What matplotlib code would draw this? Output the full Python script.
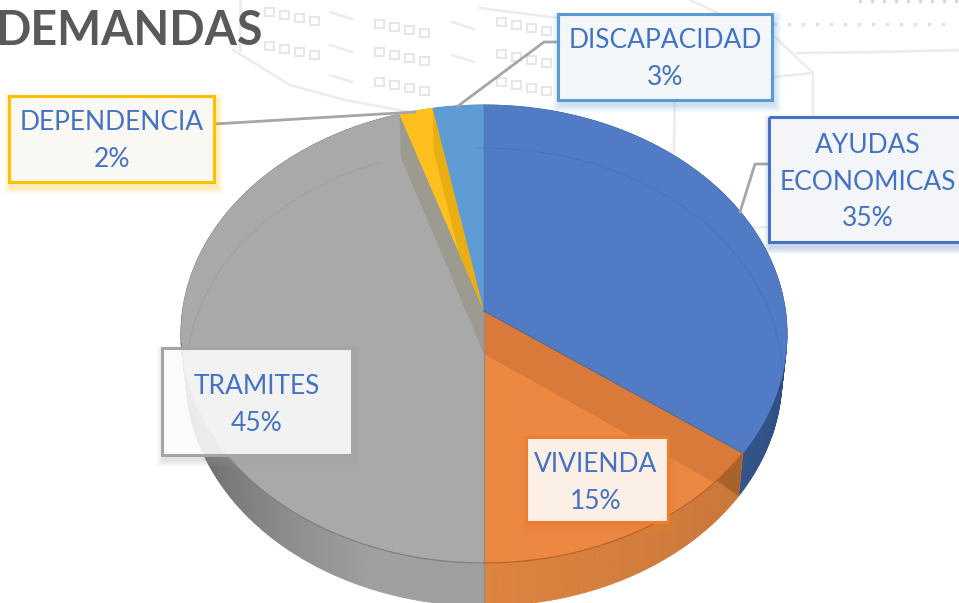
import numpy as np
import matplotlib
matplotlib.use("Agg")
import matplotlib.pyplot as plt
from matplotlib.patches import Polygon, Rectangle

title = "DEMANDAS"
categories = ["AYUDAS\nECONOMICAS", "VIVIENDA", "TRAMITES", "DEPENDENCIA", "DISCAPACIDAD"]
values = [35, 15, 45, 2, 3]

top_colors = ["#517bc5", "#ec8842", "#a9a9a9", "#fdc01c", "#5f9bd4"]
border_colors = ["#4472c4", "#ed7d31", "#a5a5a5", "#ffc000", "#5b9bd5"]
box_fills = ["#f6f7fa", "#ffffff", "#ffffff", "#faf9f5", "#f6f8fb"]
box_alphas = [0.96, 0.88, 0.86, 0.96, 0.96]
wall_near = ["#3f639f", "#dd8440", "#a0a0a0", "#e0a818", "#4d85bd"]
wall_far = ["#2b4a80", "#c8763a", "#666666", "#e0a818", "#4d85bd"]
band_colors = ["#d97a3a", None, "#9d9b90", "#e8ae12", None]

# (x0, y0, x1, y1) de cada etiqueta, en pixeles
boxes = [(769, 117, 975, 242), (526, 437, 668, 522), (162, 348, 352, 455),
         (9, 96, 214, 182), (558, 14, 772, 100)]
text_centers = [(868, 182), (596, 483), (257, 405), (112, 141), (665, 59)]
leaders = [[(769, 164), (755, 164), (740, 212)],
           None,
           None,
           [(214, 124), (415, 112)],
           [(558, 42), (544, 42), (458, 106)]]

CX, CY = 484, 334      # centro de la elipse superior
RX, RY = 303, 229
APEX = (484, 311)
DEPTH = 43
RX2 = 298
TILT = RY / RX


def rim(angle):
    """punto del borde superior, angulo en grados desde arriba en sentido horario"""
    a = np.radians(angle)
    dx, dy = np.sin(a), -TILT * np.cos(a)
    oy = APEX[1] - CY
    A = (dx / RX) ** 2 + (dy / RY) ** 2
    B = 2 * oy * dy / RY ** 2
    C = (oy / RY) ** 2 - 1
    s = (-B + np.sqrt(B ** 2 - 4 * A * C)) / (2 * A)
    return CX + s * dx, APEX[1] + s * dy


def lower(p):
    return CX + (p[0] - CX) * RX2 / RX, p[1] + DEPTH


def mix(c1, c2, t):
    a = np.array(matplotlib.colors.to_rgb(c1))
    b = np.array(matplotlib.colors.to_rgb(c2))
    return tuple(a + (b - a) * t)


fig = plt.figure(figsize=(9.59, 6.03), dpi=100, facecolor="white")
ax = fig.add_axes([0, 0, 1, 1])
ax.set_xlim(0, 959)
ax.set_ylim(603, 0)
ax.axis("off")

plt.rcParams["font.family"] = ["Lato", "DejaVu Sans"]

# dibujo tenue del edificio de fondo
sketch = "#ececec"
for pts in [[(233, 50), (290, 85), (345, 100), (415, 113)],
            [(240, 0), (240, 50)],
            [(480, 8), (558, 18)],
            [(775, 37), (813, 73), (813, 117)],
            [(773, 77), (813, 73)],
            [(797, 53), (880, 52), (959, 50)],
            [(675, 100), (672, 233)],
            [(673, 230), (767, 227)],
            [(690, 0), (720, 14)]]:
    ax.plot(*zip(*pts), color=sketch, lw=1.8, zorder=1)
for x0, y0 in [(265, 8), (265, 42), (375, 20), (375, 48), (375, 78), (497, 18), (497, 50), (497, 78)]:
    for k in range(4):
        ax.add_patch(Rectangle((x0 + k * 15, y0 + k * 3), 9, 8, fill=False, ec="#e6e6e6", lw=1.4, zorder=1))
for x0, y0 in [(330, 12), (330, 45), (330, 75), (452, 22), (452, 55)]:
    ax.plot([x0, x0 + 22], [y0, y0 + 7], color=sketch, lw=1.8, zorder=1)
ax.plot(np.arange(775, 950, 14), np.full(13, 24), ls="none", marker="s", ms=2, color="#e2e2e2", zorder=1)
ax.plot(np.arange(860, 959, 12), np.full(9, 1), ls="none", marker="s", ms=2, color="#d8d8d8", zorder=1)

# limites de cada sector
edges = np.concatenate([[0], np.cumsum(values)]) / np.sum(values) * 360

# pared lateral, en tiras pequenas para el degradado
for i in range(len(values)):
    ts = np.linspace(edges[i], edges[i + 1], max(int(values[i] * 4), 4))
    for a0, a1 in zip(ts[:-1], ts[1:]):
        p0, p1 = rim(a0), rim(a1)
        q0, q1 = lower(p0), lower(p1)
        mid = (a0 + a1) / 2
        if i == 0:
            u = 1 - min(abs(mid - 90) / 60, 1) * 0.6
        elif i == 1:
            u = (180 - mid) / 54
        else:
            u = min((mid - 200) / 50, 1) if mid > 200 else 0
        c = mix(wall_near[i], wall_far[i], u)
        ax.add_patch(Polygon([p0, p1, q1, q0], fc=c, ec=c, lw=0.6, zorder=2))

# caras superiores
faces = []
for i in range(len(values)):
    ts = np.linspace(edges[i], edges[i + 1], max(int(values[i] * 4), 6))
    pts = [APEX] + [rim(t) for t in ts]
    face = Polygon(pts, fc=top_colors[i], ec=top_colors[i], lw=0.5, zorder=3)
    ax.add_patch(face)
    faces.append(face)

# cortes entre sectores, vistos a traves de la cara
low_apex = lower(APEX)
for i, side in [(0, 1), (2, 2), (3, 3)]:
    p = rim(edges[i + 1])
    band = Polygon([APEX, p, lower(p), low_apex], fc=band_colors[i], ec="none", zorder=4)
    ax.add_patch(band)
    band.set_clip_path(faces[side])
    if i == 0:
        # parte del corte que cae sobre la pared
        ax.add_patch(Polygon([p, lower(p), rim(edges[i + 1] + 8)], fc="#a9622c", ec="none", zorder=4))

ax.plot([APEX[0], APEX[0]], [APEX[1], 603], color="#9a8d80", lw=1.0, zorder=5)
ax.plot([APEX[0], APEX[0]], [105, APEX[1]], color="#4a78b8", lw=1.0, zorder=5)
p = rim(edges[1])
ax.plot([APEX[0], p[0]], [APEX[1], p[1]], color="#4a6a9a", lw=0.8, zorder=5)

# arcos finos: borde delantero y fondo de la base
for i, c in [(1, "#b9632a"), (2, "#808080")]:
    ts = np.linspace(edges[i], min(edges[i + 1], 262), 80)
    arc = np.array([rim(t) for t in ts])
    ax.plot(arc[:, 0], arc[:, 1], color=c, lw=0.9, zorder=5)
t = np.linspace(-0.02, np.pi / 2 - 0.02, 100)
ax.plot(CX + RX2 * np.sin(t), CY + DEPTH - RY * np.cos(t), color="#4a70b4", lw=0.7, alpha=0.7, zorder=5)
t = np.linspace(np.radians(-84), np.radians(-20), 80)
ax.plot(CX + RX2 * np.sin(t), CY + DEPTH - RY * np.cos(t), color="#a0a0a0", lw=0.7, zorder=5)

# lineas guia y etiquetas
for pts in leaders:
    if pts:
        ax.plot(*zip(*pts), color="#a6a6a6", lw=2, zorder=6, solid_capstyle="round")

for i, name in enumerate(categories):
    x0, y0, x1, y1 = boxes[i]
    w, h = x1 - x0, y1 - y0
    # sombra difusa
    for k in range(7):
        grow = 7 - k
        ax.add_patch(Rectangle((x0 + 2 - grow, y0 + 5 - grow), w + 2 * grow, h + 2 * grow,
                               fc=border_colors[i], ec="none", alpha=0.045, zorder=7))
    ax.add_patch(Rectangle((x0, y0), w, h, fc=box_fills[i], ec="none", alpha=box_alphas[i], zorder=8))
    ax.add_patch(Rectangle((x0, y0), w, h, fill=False, ec=border_colors[i], lw=2.2, zorder=8))
    ax.text(text_centers[i][0], text_centers[i][1], f"{name}\n{values[i]}%", color="#4472c4",
            fontsize=19, ha="center", va="center", linespacing=1.56, zorder=9)

ax.text(-5, 45, title, color="#595959", fontsize=33.5, fontweight="bold", ha="left", va="baseline", zorder=9)

fig.savefig("out.png", dpi=100)
